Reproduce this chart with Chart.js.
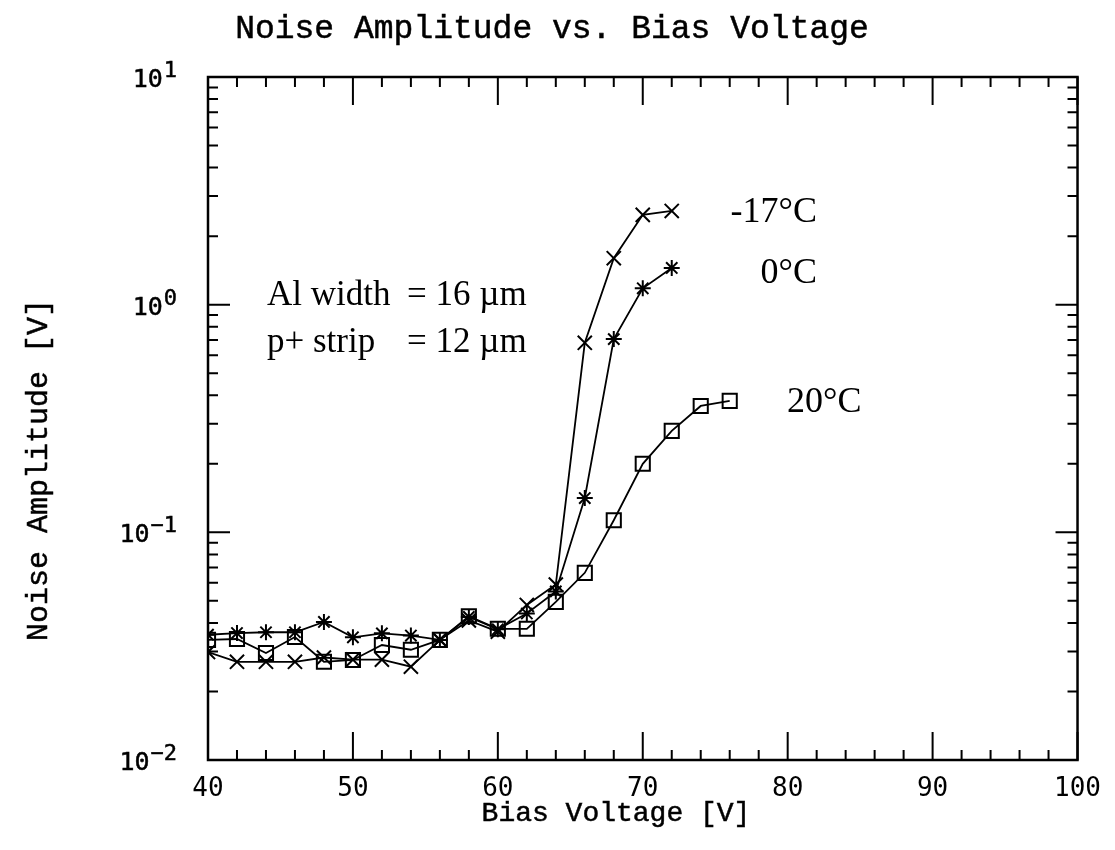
<!DOCTYPE html>
<html>
<head>
<meta charset="utf-8">
<title>Noise Amplitude vs. Bias Voltage</title>
<script src="https://cdn.jsdelivr.net/npm/chart.js@4.4.0/dist/chart.umd.min.js"></script>
<style>
  html, body { margin: 0; padding: 0; background: #fff; }
  #wrap { width: 1115px; height: 850px; }
</style>
</head>
<body>
<div id="wrap"><canvas id="chart" width="1115" height="850"></canvas></div>
<script>
// bias voltage points [V]
const biasLow = [40, 42, 44, 46, 48, 50, 52, 54, 56, 58, 60, 62, 64, 66, 68, 70, 72];
const biasHigh = [40, 42, 44, 46, 48, 50, 52, 54, 56, 58, 60, 62, 64, 66, 68, 70, 72, 74, 76];

// noise amplitude [V]
const noiseM17 = [0.0298, 0.0270, 0.0270, 0.0270, 0.0282, 0.0276, 0.0276, 0.0257, 0.0337, 0.0410, 0.0366, 0.0480, 0.0590, 0.68, 1.60, 2.48, 2.58];
const noise0 = [0.0355, 0.0361, 0.0364, 0.0364, 0.0404, 0.0346, 0.0360, 0.0352, 0.0337, 0.0425, 0.0375, 0.0440, 0.0550, 0.1415, 0.706, 1.18, 1.45];
const noise20 = [0.0337, 0.0340, 0.0295, 0.0347, 0.0270, 0.0275, 0.0320, 0.0305, 0.0337, 0.0428, 0.0377, 0.0377, 0.0495, 0.0664, 0.113, 0.200, 0.279, 0.359, 0.378];

const seriesLabels = ['-17°C', '0°C', '20°C'];

// axis ticks
const xMajorTicks = [40, 50, 60, 70, 80, 90, 100];
const xMinorStep = 2;
const yDecades = [0.01, 0.1, 1, 10];
const yExponents = ['−2', '−1', '0', '1'];

const toPoints = (xs, ys) => xs.map((x, i) => ({ x: x, y: ys[i] }));

const mono = '"Liberation Mono", "Courier New", monospace';
const serif = '"Liberation Serif", "Times New Roman", serif';
const tickFont = '"DejaVu Sans Mono", monospace';

// mono text looks thin next to the scanned print, so give it a light outline
function heavyText(ctx, text, x, y) {
  ctx.fillText(text, x, y);
  ctx.strokeText(text, x, y);
}

const framePlugin = {
  id: 'framePlugin',
  beforeDatasetsDraw(chart) {
    const { ctx, chartArea: a, scales } = chart;
    const xs = scales.x, ys = scales.y;
    ctx.save();
    ctx.strokeStyle = '#000';
    ctx.lineWidth = 2.5;
    ctx.strokeRect(a.left, a.top, a.right - a.left, a.bottom - a.top);

    ctx.lineWidth = 2;
    ctx.beginPath();
    // x ticks, inward on bottom and top
    for (let v = xs.min; v <= xs.max; v += xMinorStep) {
      const px = xs.getPixelForValue(v);
      const len = xMajorTicks.includes(v) ? 28 : 10;
      ctx.moveTo(px, a.bottom); ctx.lineTo(px, a.bottom - len);
      ctx.moveTo(px, a.top); ctx.lineTo(px, a.top + len);
    }
    // y ticks, inward on left and right
    yDecades.forEach(d => {
      for (let k = 1; k <= 9; k++) {
        const v = d * k;
        if (v > ys.max * 1.0001) break;
        const py = ys.getPixelForValue(v);
        const len = k === 1 ? 22 : 10;
        ctx.moveTo(a.left, py); ctx.lineTo(a.left + len, py);
        ctx.moveTo(a.right, py); ctx.lineTo(a.right - len, py);
      }
    });
    ctx.stroke();
    ctx.restore();
  },
  afterDraw(chart) {
    const { ctx, scales } = chart;
    const ys = scales.y;
    ctx.save();
    ctx.fillStyle = '#000';
    ctx.strokeStyle = '#000';
    ctx.lineWidth = 0.5;

    // y tick labels 10^n
    yDecades.forEach((d, i) => {
      const py = ys.getPixelForValue(d);
      ctx.textAlign = 'right';
      ctx.textBaseline = 'alphabetic';
      ctx.font = '22px ' + tickFont;
      const expW = ctx.measureText(yExponents[i]).width;
      heavyText(ctx, yExponents[i], 177, py);
      ctx.font = '25px ' + tickFont;
      heavyText(ctx, '10', 177 - expW - 1, py + 10);
    });

    // title
    ctx.textAlign = 'center';
    ctx.font = '33px ' + mono;
    heavyText(ctx, 'Noise Amplitude vs. Bias Voltage', 552, 38);

    // axis titles
    ctx.font = '28px ' + mono;
    heavyText(ctx, 'Bias Voltage [V]', 616, 821);
    ctx.save();
    ctx.translate(47, 470);
    ctx.rotate(-Math.PI / 2);
    ctx.font = '30px ' + mono;
    heavyText(ctx, 'Noise Amplitude [V]', 0, 0);
    ctx.restore();

    // temperature labels
    ctx.font = '36px ' + serif;
    ctx.textAlign = 'right';
    ctx.fillText(seriesLabels[0], 817, 222);
    ctx.fillText(seriesLabels[1], 817, 283);
    ctx.textAlign = 'left';
    ctx.fillText(seriesLabels[2], 787, 412);

    // sample parameters
    ctx.font = '35px ' + serif;
    ctx.fillText('Al width', 267, 305);
    ctx.fillText('= 16 \u00B5m', 407, 305);
    ctx.fillText('p+ strip', 267, 352);
    ctx.fillText('= 12 \u00B5m', 407, 352);
    ctx.restore();
  }
};

const common = {
  borderColor: '#000',
  backgroundColor: 'rgba(0,0,0,0)',
  borderWidth: 1.8,
  pointBorderWidth: 2,
  pointBorderColor: '#000',
  pointBackgroundColor: 'rgba(0,0,0,0)',
  tension: 0,
  fill: false
};

new Chart(document.getElementById('chart'), {
  type: 'line',
  data: {
    datasets: [
      Object.assign({ label: seriesLabels[0], data: toPoints(biasLow, noiseM17), pointStyle: 'crossRot', pointRadius: 10 }, common),
      Object.assign({ label: seriesLabels[1], data: toPoints(biasLow, noise0), pointStyle: 'star', pointRadius: 8 }, common),
      Object.assign({ label: seriesLabels[2], data: toPoints(biasHigh, noise20), pointStyle: 'rect', pointRadius: 10 }, common)
    ]
  },
  options: {
    responsive: false,
    animation: false,
    devicePixelRatio: 1,
    layout: { padding: { top: 77, right: 25, bottom: 0, left: 0 } },
    plugins: { legend: { display: false }, tooltip: { enabled: false }, title: { display: false } },
    scales: {
      x: {
        type: 'linear',
        min: 40,
        max: 100,
        grid: { display: false, drawTicks: false },
        border: { display: false },
        ticks: {
          stepSize: 10,
          padding: 14,
          color: '#000',
          font: { family: tickFont, size: 26 },
          maxRotation: 0
        },
        afterFit: (s) => { s.height = 90; }
      },
      y: {
        type: 'logarithmic',
        min: 0.01,
        max: 10,
        grid: { display: false, drawTicks: false },
        border: { display: false },
        ticks: { display: false },
        afterFit: (s) => { s.width = 208; }
      }
    }
  },
  plugins: [framePlugin]
});
</script>
</body>
</html>
